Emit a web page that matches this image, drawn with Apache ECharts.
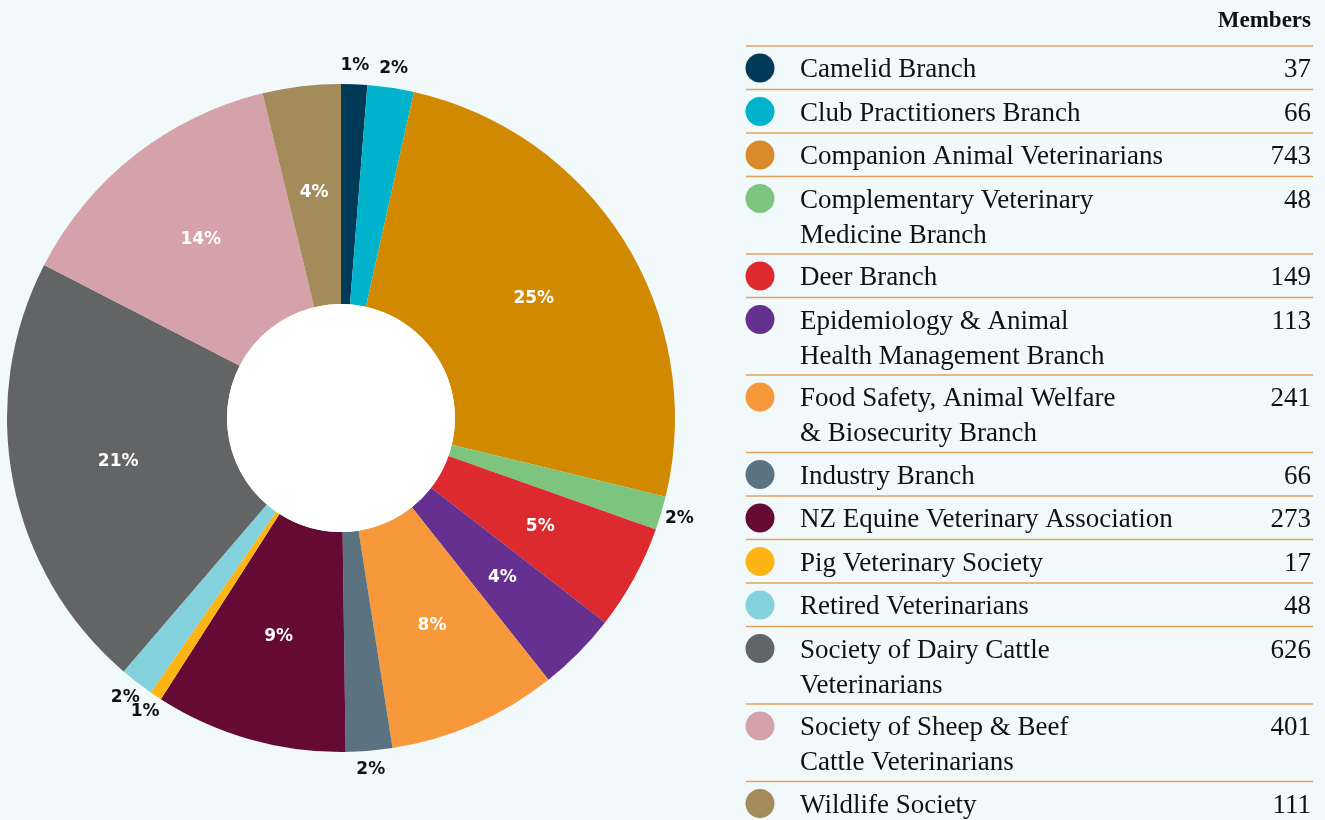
<!DOCTYPE html>
<html lang="en">
<head>
    <meta charset="UTF-8">
    <title>Members by branch</title>
    <style>
        * {
            margin: 0;
            padding: 0;
        }

        html, body {
            height: 100%;
            width: 100%;
            background: #f2f9fb;
        }
    </style>
    <script src="https://cdn.jsdelivr.net/npm/echarts@6/dist/echarts.min.js"></script>
</head>
<body>

<div id="main" style="width: 1325px;height: 820px;"></div>

<script>
    // branch names (legend text, one entry per line)
    var branches = [
        ['Camelid Branch'],
        ['Club Practitioners Branch'],
        ['Companion Animal Veterinarians'],
        ['Complementary Veterinary', 'Medicine Branch'],
        ['Deer Branch'],
        ['Epidemiology & Animal', 'Health Management Branch'],
        ['Food Safety, Animal Welfare', '& Biosecurity Branch'],
        ['Industry Branch'],
        ['NZ Equine Veterinary Association'],
        ['Pig Veterinary Society'],
        ['Retired Veterinarians'],
        ['Society of Dairy Cattle', 'Veterinarians'],
        ['Society of Sheep & Beef', 'Cattle Veterinarians'],
        ['Wildlife Society']
    ];
    var members = [37, 66, 743, 48, 149, 113, 241, 66, 273, 17, 48, 626, 401, 111];
    var colors = ['#003a57', '#00b2cc', '#d18a00', '#7dc57f', '#dc2a2f', '#663090', '#f7993a',
        '#5b7380', '#640a35', '#fdb515', '#83d1dc', '#636466', '#d5a2aa', '#a48b5c'];
    var legendDots = colors.slice();
    legendDots[2] = '#d98b2b';

    var total = members.reduce(function (a, b) { return a + b; }, 0);
    function isSmall(v) { return v / total < 0.03; }
    function pct(v) { return Math.round(v / total * 100) + '%'; }

    var myChart = echarts.init(document.getElementById('main'));

    // donut: labels only for the bigger slices
    var pieData = members.map(function (v, i) {
        return {
            name: branches[i].join(' '),
            value: v,
            itemStyle: {color: colors[i]},
            label: {show: !isSmall(v)}
        };
    });

    // small slices get their label just outside the ring, placed on a polar grid
    // that shares the pie's angle (value along the circle) and centre
    var outerLabels = [];
    var acc = 0;
    members.forEach(function (v) {
        if (isSmall(v)) outerLabels.push({value: [353, acc + v / 2], text: pct(v)});
        acc += v;
    });

    var cx = 341, cy = 418;
    var left = 746, right = 1313;
    var serif = '"Liberation Serif"';
    var graphics = [
        {type: 'circle', shape: {cx: cx, cy: cy, r: 114}, style: {fill: '#fff'}, z: 10},
        {
            type: 'text', x: 1311, y: 21,
            style: {text: 'Members', font: 'bold 23px ' + serif, fill: '#111', align: 'right', verticalAlign: 'middle'}
        }
    ];
    // legend table on the right
    var y = 46;
    graphics.push({type: 'line', shape: {x1: left, y1: y, x2: right, y2: y}, style: {stroke: '#e0a35c', lineWidth: 1.5}});
    branches.forEach(function (lines, i) {
        var h = lines.length > 1 ? 77.5 : 43.5;
        var ty = y + 23;
        graphics.push({type: 'circle', shape: {cx: 760, cy: ty - 1, r: 14.5}, style: {fill: legendDots[i]}});
        lines.forEach(function (t, k) {
            graphics.push({
                type: 'text', x: 800, y: ty + 1 + k * 35,
                style: {text: t, font: '27px ' + serif, fill: '#111', verticalAlign: 'middle'}
            });
        });
        graphics.push({
            type: 'text', x: 1311, y: ty + 1,
            style: {text: String(members[i]), font: '27px ' + serif, fill: '#111', align: 'right', verticalAlign: 'middle'}
        });
        y += h;
        if (i < branches.length - 1) {
            graphics.push({type: 'line', shape: {x1: left, y1: y, x2: right, y2: y}, style: {stroke: '#e0a35c', lineWidth: 1.5}});
        }
    });

    var labelFont = {fontFamily: 'DejaVu Sans', fontWeight: 'bold', fontSize: 17};

    var option = {
        backgroundColor: '#f2f9fb',
        animation: false,
        graphic: graphics,
        polar: {center: [cx, cy], radius: 353},
        angleAxis: {type: 'value', min: 0, max: total, startAngle: 90, clockwise: true, show: false},
        radiusAxis: {type: 'value', min: 0, max: 353, show: false},
        series: [
            {
                type: 'pie',
                center: [cx, cy],
                radius: [114, 334],
                startAngle: 90,
                clockwise: true,
                avoidLabelOverlap: false,
                itemStyle: {borderWidth: 0},
                label: Object.assign({
                    position: 'inside',
                    color: '#fff',
                    formatter: function (p) {
                        return Math.round(p.percent) + '%';
                    }
                }, labelFont),
                labelLine: {show: false},
                emphasis: {disabled: true},
                data: pieData
            },
            {
                type: 'scatter',
                coordinateSystem: 'polar',
                symbolSize: 0,
                silent: true,
                clip: false,
                itemStyle: {opacity: 1},
                label: Object.assign({
                    show: true,
                    position: 'inside',
                    color: '#111',
                    formatter: function (p) {
                        return p.data.text;
                    }
                }, labelFont),
                emphasis: {disabled: true},
                data: outerLabels
            }
        ]
    };
    myChart.setOption(option);
</script>

</body>
</html>
